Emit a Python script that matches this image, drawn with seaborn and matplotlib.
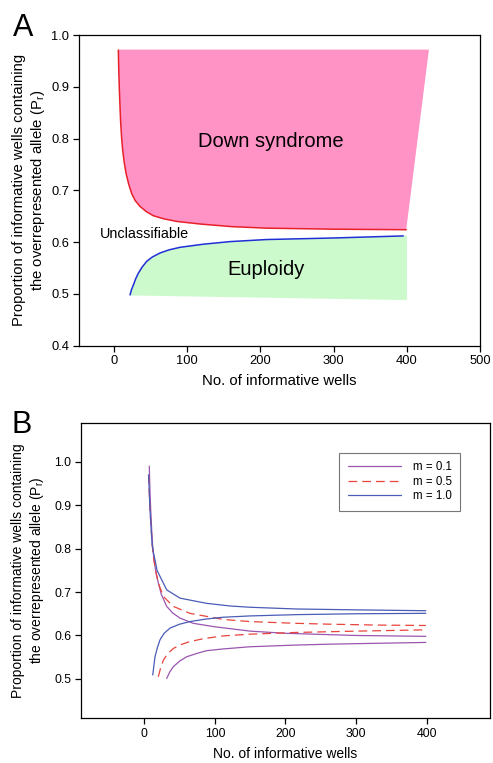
import matplotlib
matplotlib.use("Agg")
import matplotlib.pyplot as plt  # plotting
import seaborn as sns  # line drawing and style

# Panel A: classification boundaries
red_x = [5.9, 6.5, 7.3, 8.2, 9.1, 10.3, 11.8, 13.8, 16.4, 20, 24.1, 29, 35.5, 44, 53.7, 68, 85.6, 117.5, 160, 208, 300, 399]
red_y = [0.971, 0.93, 0.894, 0.86, 0.830, 0.803, 0.778, 0.755, 0.733, 0.712, 0.694, 0.680, 0.669, 0.659, 0.651, 0.645, 0.640, 0.635, 0.630, 0.627, 0.625, 0.624]
blue_x = [21.9, 23.8, 26.4, 29.5, 33.2, 38.5, 44.7, 52, 62.8, 75, 90.2, 122, 158.5, 208, 300, 395]
blue_y = [0.498, 0.508, 0.517, 0.529, 0.540, 0.552, 0.563, 0.571, 0.579, 0.585, 0.590, 0.596, 0.601, 0.605, 0.608, 0.612]
down_top_y = 0.972
down_top_right_x = 430
euploid_bottom_x = [21.9, 400]
euploid_bottom_y = [0.497, 0.488]
euploid_right_x = 400
euploid_right_top_y = 0.613

# Panel B: boundaries for three m values (upper and lower curves)
m_labels = ["m = 0.1", "m = 0.5", "m = 1.0"]
up01_x = [7, 8, 9, 10.5, 12, 14, 17, 20, 24, 31.7, 40, 50.5, 69.3, 100, 150, 200, 300, 399]
up01_y = [0.99, 0.93, 0.89, 0.84, 0.80, 0.77, 0.74, 0.72, 0.695, 0.667, 0.652, 0.640, 0.628, 0.620, 0.610, 0.605, 0.600, 0.598]
lo01_x = [31.7, 36, 41, 50, 60, 75, 88.3, 111.7, 149.5, 215.6, 262.7, 330, 399]
lo01_y = [0.501, 0.516, 0.528, 0.541, 0.551, 0.559, 0.565, 0.569, 0.574, 0.578, 0.580, 0.582, 0.584]
up05_x = [6, 7, 8, 9.5, 11, 13, 16, 20, 26.9, 41, 64.6, 111.7, 149.5, 215, 262.7, 330, 399]
up05_y = [0.97, 0.93, 0.89, 0.85, 0.81, 0.78, 0.75, 0.72, 0.690, 0.667, 0.651, 0.637, 0.632, 0.628, 0.626, 0.624, 0.623]
lo05_x = [19.8, 23, 26.9, 33, 41, 52, 64.6, 85, 111.7, 149.5, 215.6, 300, 399]
lo05_y = [0.505, 0.525, 0.543, 0.558, 0.570, 0.579, 0.586, 0.593, 0.599, 0.603, 0.607, 0.610, 0.613]
up10_x = [6, 7, 8, 9.5, 11, 13, 15.1, 18, 22.2, 31.7, 50.5, 88.3, 121, 149.5, 215.6, 300, 399]
up10_y = [0.97, 0.93, 0.89, 0.85, 0.81, 0.79, 0.774, 0.75, 0.736, 0.705, 0.686, 0.674, 0.668, 0.665, 0.661, 0.659, 0.657]
lo10_x = [11.9, 13.5, 15.1, 18.5, 22.2, 28, 36.4, 50, 64.6, 88, 111.7, 149.5, 215.6, 300, 399]
lo10_y = [0.509, 0.53, 0.551, 0.572, 0.590, 0.605, 0.617, 0.626, 0.632, 0.638, 0.642, 0.645, 0.648, 0.650, 0.651]

sns.set_style("ticks")
plt.rcParams["font.family"] = ["Liberation Sans", "DejaVu Sans"]
plt.rcParams["axes.linewidth"] = 0.9
# plain black text and axes like the original
for key in ["text.color", "axes.labelcolor", "xtick.color", "ytick.color", "axes.edgecolor"]:
    plt.rcParams[key] = "black"

fig = plt.figure(figsize=(4.93, 7.63), dpi=100)

# ---- Panel A ----
ax1 = fig.add_axes([0.160, 0.547, 0.814, 0.407])

# pink region (Down syndrome): top edge, slanted right edge, red curve back
pink_x = [red_x[0], down_top_right_x] + red_x[::-1]
pink_y = [down_top_y, down_top_y] + red_y[::-1]
ax1.fill(pink_x, pink_y, color="#FF93C6", lw=0, zorder=1)

# green region (Euploidy): blue curve, right edge, bottom edge
green_x = blue_x + [euploid_right_x, euploid_right_x] + euploid_bottom_x[::-1]
green_y = blue_y + [euploid_right_top_y, euploid_bottom_y[1]] + euploid_bottom_y[::-1]
ax1.fill(green_x, green_y, color="#CCFACC", lw=0, zorder=1)

sns.lineplot(x=red_x, y=red_y, ax=ax1, color="#E8202A", lw=1.1, sort=False, estimator=None, zorder=3)
sns.lineplot(x=blue_x, y=blue_y, ax=ax1, color="#2030D8", lw=1.1, sort=False, estimator=None, zorder=3)

ax1.text(214, 0.795, "Down syndrome", fontsize=14.5, ha="center", va="center")
ax1.text(208, 0.548, "Euploidy", fontsize=14.5, ha="center", va="center")
ax1.text(-20, 0.615, "Unclassifiable", fontsize=10.4, ha="left", va="center")

ax1.set_xlim(-48, 500)
ax1.set_ylim(0.4, 1.0)
ax1.set_xticks([0, 100, 200, 300, 400, 500])
ax1.set_yticks([0.4, 0.5, 0.6, 0.7, 0.8, 0.9, 1.0])
ax1.set_yticklabels(["0.4", "0.5", "0.6", "0.7", "0.8", "0.9", "1.0"])
ax1.tick_params(labelsize=9.3, length=4, width=0.9, direction="out", pad=3)
ax1.set_xlabel("No. of informative wells", fontsize=10.7, labelpad=5)
ax1.set_ylabel("Proportion of informative wells containing\nthe overrepresented allele (P$_\\mathregular{r}$)",
               fontsize=10.7, labelpad=3)
fig.text(0.026, 0.983, "A", fontsize=22, ha="left", va="top")

# ---- Panel B ----
ax2 = fig.add_axes([0.164, 0.059, 0.830, 0.387])

purple = "#9A55B0"
red = "#E8453C"
blue = "#4A5CB8"

sns.lineplot(x=up01_x, y=up01_y, ax=ax2, color=purple, lw=0.9, sort=False, estimator=None, label=m_labels[0])
sns.lineplot(x=lo01_x, y=lo01_y, ax=ax2, color=purple, lw=0.9, sort=False, estimator=None)
sns.lineplot(x=up05_x, y=up05_y, ax=ax2, color=red, lw=0.9, sort=False, estimator=None, label=m_labels[1])
sns.lineplot(x=lo05_x, y=lo05_y, ax=ax2, color=red, lw=0.9, sort=False, estimator=None)
sns.lineplot(x=up10_x, y=up10_y, ax=ax2, color=blue, lw=0.9, sort=False, estimator=None, label=m_labels[2])
sns.lineplot(x=lo10_x, y=lo10_y, ax=ax2, color=blue, lw=0.9, sort=False, estimator=None)
# red ones dashed
for ln in ax2.lines[2:4]:
    ln.set_dashes([7, 4])

ax2.set_xlim(-90, 490)
ax2.set_ylim(0.41, 1.09)
ax2.set_xticks([0, 100, 200, 300, 400])
ax2.set_yticks([0.5, 0.6, 0.7, 0.8, 0.9, 1.0])
ax2.set_yticklabels(["0.5", "0.6", "0.7", "0.8", "0.9", "1.0"])
ax2.tick_params(labelsize=8.8, length=4, width=0.9, direction="out", pad=3)
ax2.set_xlabel("No. of informative wells", fontsize=10, labelpad=5)
ax2.set_ylabel("Proportion of informative wells containing\nthe overrepresented allele (P$_\\mathregular{r}$)",
               fontsize=10, labelpad=6)

leg = ax2.legend(loc="upper right", bbox_to_anchor=(0.927, 0.898), fontsize=8.3, frameon=True,
                 fancybox=False, edgecolor="#555555", handlelength=4.6, handletextpad=1.0,
                 borderpad=0.75, labelspacing=0.2, borderaxespad=0)
leg.get_frame().set_linewidth(0.8)
fig.text(0.024, 0.463, "B", fontsize=22, ha="left", va="top")

plt.savefig("out.png", dpi=100)
